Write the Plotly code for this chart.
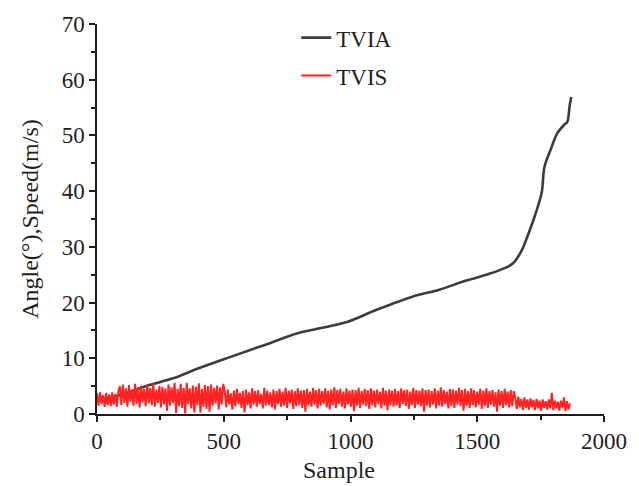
import plotly.graph_objects as go

# TVIA (black) curve: sample index -> angle
tvia_x = [0, 100, 206, 300, 401, 530, 662, 791, 869, 986, 1103, 1247, 1350, 1453,
          1550, 1598, 1640, 1676, 1688, 1726, 1754, 1765, 1790, 1816, 1845, 1855, 1865, 1871]
tvia_y = [2.4, 3.5, 5.2, 6.4, 8.2, 10.3, 12.4, 14.5, 15.3, 16.5, 18.7, 21.1, 22.3, 23.9,
          25.2, 26.0, 27.0, 29.4, 30.7, 35.4, 39.7, 44.3, 47.5, 50.4, 52.0, 52.4, 55.5, 56.9]

# TVIS (red) noisy speed, one value every 6 samples
tvis_step = 6
tvis_y = [
    3.7, 1.5, 3.9, 1.8, 3.4, 1.3, 3.8, 1.6, 3.5, 1.4, 3.9, 1.7, 3.6, 1.3, 4.0,
    5.0, 1.6, 5.3, 2.0, 4.6, 1.3, 5.2, 2.2, 4.4, 1.5, 5.4, 1.8, 4.8, 1.2, 5.1, 2.1, 4.5, 1.4, 5.3, 1.9,
    4.7, 1.6, 5.5, 1.3, 4.4, 2.0, 5.0, 1.2, 4.9, 1.7,
    4.6, 0.6, 5.3, 1.5, 4.8, 2.0, 5.6, 0.2, 4.5, 1.4,
    5.4, 1.1, 4.7, 0.1, 5.6, 1.8, 4.6, 1.0, 5.1, 0.3,
    4.9, 1.6, 5.5, 0.3, 4.5, 1.3, 5.2, 0.9, 5.0, 0.4,
    5.3, 1.5, 4.7, 1.9, 5.1, 0.8, 4.8, 1.7, 5.4,
    4.0, 1.2, 4.4, 1.7, 3.7, 0.8, 4.2, 1.4, 4.5, 1.8,
    3.8, 1.1, 4.1, 0.3, 4.4, 1.6, 3.9, 1.0, 4.6, 1.7,
    4.1, 1.3, 4.3, 1.8, 3.6, 1.0, 4.7, 1.5, 4.2, 1.6,
    3.9, 1.2, 4.4, 0.8, 4.1, 1.8, 4.5, 1.3, 4.0, 1.5,
    4.7, 1.1, 4.2, 1.9, 4.4, 0.9, 4.1, 1.4, 4.6, 1.6,
    4.2, 1.1, 4.3, 0.4, 4.5, 1.6, 4.0, 1.3, 4.7, 1.7,
    4.3, 1.0, 4.5, 1.5, 4.1, 1.8, 4.6, 1.2, 4.2, 0.8,
    4.4, 1.6, 4.8, 1.1, 4.3, 1.8, 4.5, 1.3, 4.0, 1.0,
    4.6, 1.7, 4.2, 1.3, 4.4, 0.5, 4.3, 1.5, 4.7, 1.1,
    4.1, 1.7, 4.5, 1.4, 4.3, 0.9, 4.6, 1.6, 4.2, 1.2,
    4.4, 1.8, 4.0, 1.0, 4.7, 1.5, 4.2, 0.7, 4.4, 1.6,
    4.2, 1.3, 4.5, 1.5, 4.1, 1.1, 4.6, 1.8, 4.3, 1.4,
    4.4, 0.9, 4.0, 1.6, 4.7, 1.1, 4.3, 1.7, 4.2, 1.4,
    4.6, 0.4, 4.3, 1.5, 4.4, 1.2, 4.1, 1.7, 4.6, 1.0,
    4.2, 1.5, 4.8, 1.3, 4.3, 1.8, 4.0, 1.0, 4.5, 1.4,
    4.4, 1.1, 4.2, 1.7, 4.7, 1.4, 4.3, 0.6, 4.5, 1.5,
    4.1, 1.1, 4.6, 1.6, 4.3, 1.2, 4.0, 1.7, 4.5, 0.9,
    4.2, 1.4, 4.6, 1.1, 4.1, 1.7, 4.3, 1.3, 3.9, 0.4,
    4.4, 1.5, 4.1, 1.1, 4.5, 1.6, 4.0, 1.2, 4.3, 1.4, 4.1,
    2.9, 0.9, 3.1, 1.2, 2.7, 0.7, 3.0, 1.1, 2.6, 0.8,
    2.8, 1.2, 2.5, 0.7, 2.7, 1.0, 2.4, 0.6, 2.6, 1.1,
    2.3, 0.8, 2.6, 1.0, 3.8, 0.7, 2.4, 1.0, 2.2, 0.6,
    2.4, 1.1, 3.0, 0.5, 2.3, 0.8, 1.9,
]
tvis_x = [i * tvis_step for i in range(len(tvis_y))]

x_ticks = [0, 500, 1000, 1500, 2000]
y_ticks = [0, 10, 20, 30, 40, 50, 60, 70]

FONT = "Liberation Serif"
INK = "#1e1e1e"

fig = go.Figure()
fig.add_trace(go.Scatter(x=tvia_x, y=tvia_y, mode="lines", name="TVIA",
                         line=dict(color="#3c3c3c", width=2.6, shape="spline"),
                         legendgroup="a"))
fig.add_trace(go.Scatter(x=tvis_x, y=tvis_y, mode="lines", name="TVIS",
                         line=dict(color="#ff2222", width=2.0),
                         legendgroup="b"))

axis_common = dict(showgrid=False, zeroline=False, showline=True, linecolor=INK,
                   linewidth=1.5, ticks="outside", ticklen=6, tickwidth=1.5,
                   tickcolor=INK, tickfont=dict(family=FONT, size=23, color=INK))

fig.update_xaxes(range=[0, 2000], tickvals=x_ticks,
                 minor=dict(ticks="outside", ticklen=4, dtick=250, tickcolor=INK, tickwidth=1.5),
                 **axis_common)
fig.update_yaxes(range=[0, 70], tickvals=y_ticks,
                 minor=dict(ticks="outside", ticklen=4, dtick=5, tickcolor=INK, tickwidth=1.5),
                 **axis_common)

fig.add_annotation(text="Angle(°),Speed(m/s)", textangle=-90, showarrow=False,
                   xref="paper", yref="paper", x=-0.1325, y=0.5,
                   xanchor="center", yanchor="middle",
                   font=dict(family=FONT, size=24, color=INK))
fig.add_annotation(text="Sample", showarrow=False,
                   xref="paper", yref="paper", x=0.4776, y=-0.1436,
                   xanchor="center", yanchor="middle",
                   font=dict(family=FONT, size=24, color=INK))

fig.update_layout(
    width=639, height=486,
    margin=dict(l=97, r=29, t=24, b=72),
    plot_bgcolor="white", paper_bgcolor="white",
    font=dict(family=FONT, color=INK),
    legend=dict(x=0.393, y=1.02, xanchor="left", yanchor="top",
                font=dict(family=FONT, size=23, color=INK),
                bgcolor="rgba(0,0,0,0)", tracegroupgap=5),
)

fig.write_html("out.html")
